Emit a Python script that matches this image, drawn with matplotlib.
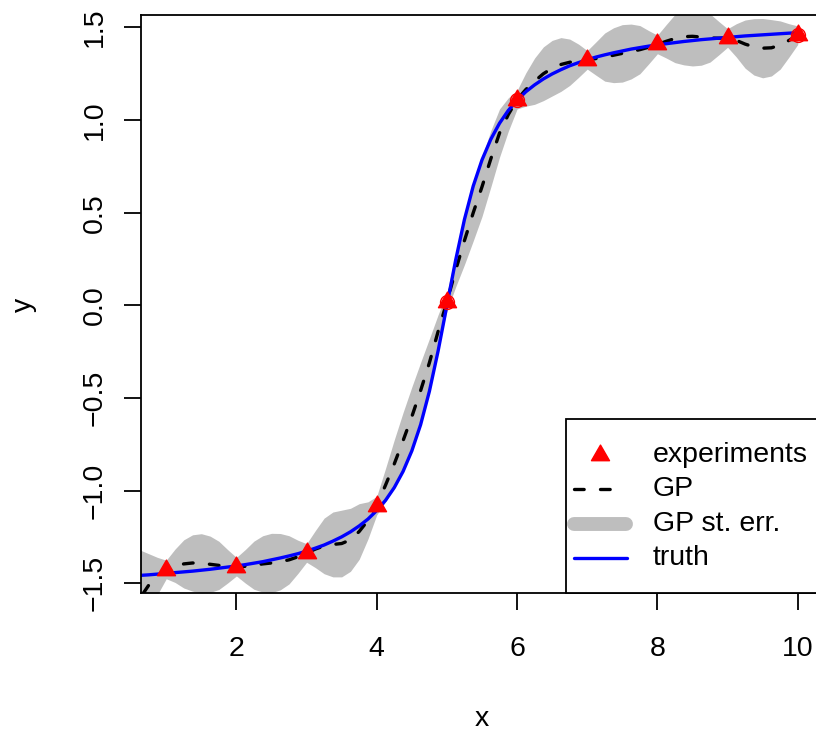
import numpy as np
import matplotlib.pyplot as plt
from matplotlib.lines import Line2D
from matplotlib.patches import Rectangle
from matplotlib.path import Path

plt.rcParams['font.family'] = ['Liberation Sans', 'DejaVu Sans']

# experiments (design points)
exp_x = [1, 2, 3, 4, 5, 6, 7, 8, 9, 10]
exp_y = [-1.43, -1.41, -1.335, -1.08, 0.02, 1.11, 1.325, 1.408, 1.443, 1.46]

# points that also carry an open circle
circ_x = [5, 6, 10]
circ_y = [0.02, 1.11, 1.46]

# prediction grid (step 0.125 from 0.5 to 10)
grid_x = np.arange(0.5, 10.01, 0.125)

# GP predictive mean
gp_mean = [-1.68, -1.58, -1.51, -1.46, -1.425,
           -1.405, -1.395, -1.39, -1.392, -1.397, -1.403, -1.408, -1.41,
           -1.408, -1.402, -1.395, -1.39, -1.383, -1.373, -1.357, -1.336,
           -1.315, -1.298, -1.29, -1.285, -1.265, -1.22, -1.16, -1.08,
           -0.97, -0.855, -0.73, -0.6, -0.46, -0.31, -0.14, 0.02,
           0.19, 0.35, 0.5, 0.64, 0.79, 0.93, 1.03, 1.11,
           1.165, 1.21, 1.25, 1.28, 1.3, 1.312, 1.32, 1.325,
           1.332, 1.34, 1.35, 1.36, 1.37, 1.38, 1.393, 1.408,
           1.425, 1.44, 1.45, 1.452, 1.448, 1.443, 1.442, 1.443,
           1.43, 1.41, 1.395, 1.388, 1.39, 1.405, 1.43, 1.458]

# half width of the grey st. err. band
gp_se = [0.36, 0.26, 0.17, 0.1, 0.05,
         0.09, 0.13, 0.152, 0.16, 0.152, 0.13, 0.09, 0.05,
         0.09, 0.13, 0.152, 0.16, 0.152, 0.13, 0.09, 0.05,
         0.1, 0.15, 0.175, 0.18, 0.17, 0.15, 0.1, 0.05,
         0.09, 0.13, 0.152, 0.16, 0.152, 0.13, 0.09, 0.05,
         0.09, 0.13, 0.152, 0.16, 0.152, 0.13, 0.09, 0.05,
         0.09, 0.125, 0.145, 0.15, 0.145, 0.125, 0.09, 0.05,
         0.09, 0.13, 0.148, 0.155, 0.148, 0.13, 0.09, 0.05,
         0.09, 0.13, 0.152, 0.16, 0.152, 0.13, 0.09, 0.05,
         0.09, 0.13, 0.152, 0.16, 0.152, 0.13, 0.09, 0.05]

# true response (blue curve)
truth_y = [-1.460, -1.457, -1.454, -1.450, -1.446,
           -1.442, -1.438, -1.434, -1.429, -1.424, -1.418, -1.412, -1.406,
           -1.399, -1.391, -1.383, -1.373, -1.363, -1.352, -1.340, -1.326,
           -1.310, -1.293, -1.272, -1.249, -1.222, -1.190, -1.153, -1.107,
           -1.052, -0.983, -0.896, -0.785, -0.644, -0.464, -0.245, 0.0,
           0.245, 0.464, 0.644, 0.785, 0.896, 0.983, 1.052, 1.107,
           1.153, 1.190, 1.222, 1.249, 1.272, 1.293, 1.310, 1.326,
           1.340, 1.352, 1.363, 1.373, 1.383, 1.391, 1.399, 1.406,
           1.412, 1.418, 1.424, 1.429, 1.434, 1.438, 1.442, 1.446,
           1.450, 1.454, 1.457, 1.460, 1.463, 1.466, 1.469, 1.471]

x_ticks = [2, 4, 6, 8, 10]
y_ticks = [-1.5, -1.0, -0.5, 0.0, 0.5, 1.0, 1.5]
y_labels = ['\u22121.5', '\u22121.0', '\u22120.5', '0.0', '0.5', '1.0', '1.5']
legend_labels = ['experiments', 'GP', 'GP st. err.', 'truth']

W, H = 816, 731
FS = 20.5
LW = 1.3

# R style filled triangle (pch 17)
tri = Path([(0, 1.555), (1.347, -0.778), (-1.347, -0.778), (0, 1.555)],
           [Path.MOVETO, Path.LINETO, Path.LINETO, Path.CLOSEPOLY])

gp_mean = np.array(gp_mean)
gp_se = np.array(gp_se)

fig = plt.figure(figsize=(W / 100, H / 100), dpi=100)
ax = fig.add_axes([141 / W, 1 - 593 / H, (823 - 141) / W, (593 - 15) / H])

ax.fill_between(grid_x, gp_mean - gp_se, gp_mean + gp_se, color='#bebebe', lw=0)
ax.plot(grid_x, gp_mean, color='black', lw=2.4, dashes=(2.9, 4.9),
        dash_capstyle='round')
ax.plot(grid_x, truth_y, color='blue', lw=2.4, solid_capstyle='round')
ax.plot(circ_x, circ_y, ls='none', marker='o', ms=10, mfc='none',
        mec='red', mew=1.0)
ax.plot(exp_x, exp_y, ls='none', marker=tri, ms=15, color='red', mec='red')

ax.set_xlim(0.64, 10.36)
ax.set_ylim(-1.552, 1.567)
ax.set_xticks(x_ticks)
ax.set_xticklabels([str(t) for t in x_ticks])
ax.set_yticks(y_ticks)
ax.set_yticklabels(y_labels, rotation=90, va='center')
ax.tick_params(axis='both', length=12.2, width=LW, labelsize=FS)
ax.tick_params(axis='x', pad=19)
ax.tick_params(axis='y', pad=11.5)
for sp in ax.spines.values():
    sp.set_linewidth(LW)

fig.text(482 / W, 1 - 719 / H, 'x', ha='center', va='center', fontsize=FS)
fig.text(24 / W, 1 - 305 / H, 'y', ha='center', va='center', fontsize=FS,
         rotation=90)

# legend drawn by hand (bottom right, partly outside the figure like the original)
def fx(px):
    return px / W


def fy(py):
    return 1 - py / H


fig.add_artist(Rectangle((fx(566), fy(593)), (823 - 566) / W, (593 - 419) / H,
                         transform=fig.transFigure, facecolor='white',
                         edgecolor='black', lw=LW, zorder=3))
rows = [454.5 + 34.6 * i for i in range(4)]
fig.add_artist(Line2D([fx(600)], [fy(rows[0])], ls='none', marker=tri, ms=15,
                      color='red', transform=fig.transFigure, zorder=4))
fig.add_artist(Line2D([fx(574), fx(626)], [fy(rows[1])] * 2, color='black',
                      lw=2.4, dashes=(2.9, 4.9), dash_capstyle='round',
                      transform=fig.transFigure, zorder=4))
fig.add_artist(Line2D([fx(574), fx(626)], [fy(rows[2])] * 2, color='#bebebe',
                      lw=10, solid_capstyle='round',
                      transform=fig.transFigure, zorder=4))
fig.add_artist(Line2D([fx(574), fx(627)], [fy(rows[3])] * 2, color='blue',
                      lw=2.4, solid_capstyle='round',
                      transform=fig.transFigure, zorder=4))
for r, lab in zip(rows, legend_labels):
    fig.text(fx(653), fy(r), lab, ha='left', va='center', fontsize=FS, zorder=5)

fig.savefig('out.png', dpi=100)
